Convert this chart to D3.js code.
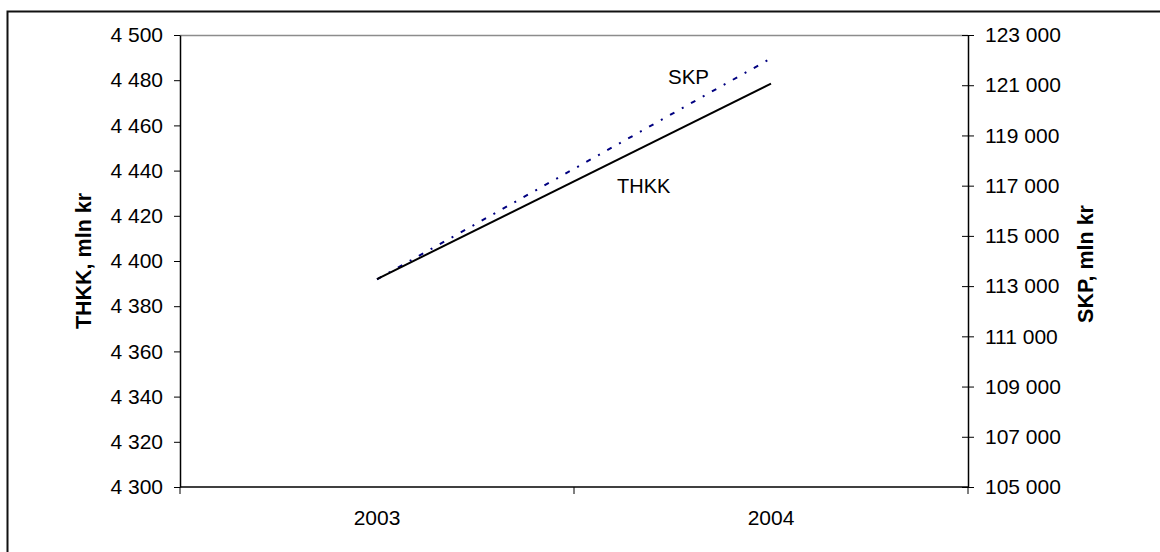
<!DOCTYPE html>
<html>
<head>
<meta charset="utf-8">
<script src="https://cdn.jsdelivr.net/npm/d3@7"></script>
<style>
  html, body { margin: 0; padding: 0; background: #fff; }
  svg { display: block; font-family: "Liberation Sans", Arial, sans-serif; }
</style>
</head>
<body>
<svg id="chart" width="1160" height="552"></svg>
<script>
// Years on the category axis
const years = ["2003", "2004"];
// THKK, mln kr (left axis)
const thkk = [4392, 4478.5];
// SKP, mln kr (right axis)
const skp = [113270, 122070];
// Axis tick values
const leftTicks = [4300, 4320, 4340, 4360, 4380, 4400, 4420, 4440, 4460, 4480, 4500];
const rightTicks = [105000, 107000, 109000, 111000, 113000, 115000, 117000, 119000, 121000, 123000];

const svg = d3.select("#chart");
const plot = { left: 180, right: 968, top: 35, bottom: 487 };
const tickFont = 21;

const locale = d3.formatLocale({ decimal: ",", thousands: " ", grouping: [3], currency: ["", " kr"] });
const fmt = locale.format(",d");

const x = d3.scaleBand().domain(years).range([plot.left, plot.right]).padding(0);
const yL = d3.scaleLinear().domain([4300, 4500]).range([plot.bottom, plot.top]);
const yR = d3.scaleLinear().domain([105000, 123000]).range([plot.bottom, plot.top]);

// Outer chart frame (runs off the right and bottom edges)
svg.append("rect")
  .attr("x", 7.5).attr("y", 11.5)
  .attr("width", 1200).attr("height", 600)
  .attr("fill", "none").attr("stroke", "#111").attr("stroke-width", 2);

// Gray top border of the plot area
svg.append("line")
  .attr("x1", plot.left).attr("x2", plot.right)
  .attr("y1", plot.top + 0.5).attr("y2", plot.top + 0.5)
  .attr("stroke", "#8c8c8c").attr("stroke-width", 1.5);

// Left axis
const gL = svg.append("g")
  .attr("transform", `translate(${plot.left},0)`)
  .call(d3.axisLeft(yL).tickValues(leftTicks).tickFormat(fmt).tickSize(6).tickSizeOuter(0).tickPadding(11));

// Right axis (ticks cross the axis line)
const gR = svg.append("g")
  .attr("transform", `translate(${plot.right},0)`)
  .call(d3.axisRight(yR).tickValues(rightTicks).tickFormat(fmt).tickSize(6).tickSizeOuter(0).tickPadding(11));
gR.selectAll(".tick line").attr("x1", -6).attr("x2", 6);

// Bottom axis: ticks at category boundaries, labels centred in each band
const gB = svg.append("g")
  .attr("transform", `translate(0,${plot.bottom})`);
gB.append("line")
  .attr("x1", plot.left).attr("x2", plot.right)
  .attr("stroke", "#000").attr("stroke-width", 1.5);
const bounds = [plot.left, ...years.map(d => x(d) + x.bandwidth())];
gB.selectAll(".btick").data(bounds).join("line")
  .attr("class", "btick")
  .attr("x1", d => d).attr("x2", d => d)
  .attr("y1", 0).attr("y2", 7)
  .attr("stroke", "#000").attr("stroke-width", 1);
gB.selectAll(".blabel").data(years).join("text")
  .attr("class", "blabel")
  .attr("x", d => x(d) + x.bandwidth() / 2)
  .attr("y", 38)
  .attr("text-anchor", "middle")
  .attr("font-size", tickFont)
  .attr("fill", "#000")
  .text(d => d);

[gL, gR].forEach(g => {
  g.selectAll(".domain").attr("stroke", "#000").attr("stroke-width", 1.5);
  g.selectAll(".tick line").attr("stroke", "#000");
  g.selectAll(".tick text").attr("font-size", tickFont).attr("fill", "#000")
    .attr("font-family", "Liberation Sans, Arial, sans-serif");
});

// Axis titles
svg.append("text")
  .attr("transform", `translate(91,${(plot.top + plot.bottom) / 2}) rotate(-90)`)
  .attr("text-anchor", "middle")
  .attr("font-size", 21.5).attr("font-weight", "bold")
  .text("THKK, mln kr");
svg.append("text")
  .attr("transform", `translate(1093,${(plot.top + plot.bottom) / 2 + 3}) rotate(-90)`)
  .attr("text-anchor", "middle")
  .attr("font-size", 21.5).attr("font-weight", "bold")
  .text("SKP, mln kr");

const cx = d => x(d) + x.bandwidth() / 2;

// SKP series (navy, dash-dot)
svg.append("path")
  .datum(years.map((d, i) => [cx(d), yR(skp[i])]))
  .attr("d", d3.line())
  .attr("fill", "none")
  .attr("stroke", "#000080")
  .attr("stroke-width", 2)
  .attr("stroke-dasharray", "5,8.5,2,8.5");

// THKK series (black, solid)
svg.append("path")
  .datum(years.map((d, i) => [cx(d), yL(thkk[i])]))
  .attr("d", d3.line())
  .attr("fill", "none")
  .attr("stroke", "#000")
  .attr("stroke-width", 2);

// Series labels
svg.append("text")
  .attr("x", 668).attr("y", 84)
  .attr("font-size", 20.5).attr("fill", "#000")
  .text("SKP");
svg.append("text")
  .attr("x", 617).attr("y", 193)
  .attr("font-size", 20).attr("fill", "#000")
  .text("THKK");
</script>
</body>
</html>
